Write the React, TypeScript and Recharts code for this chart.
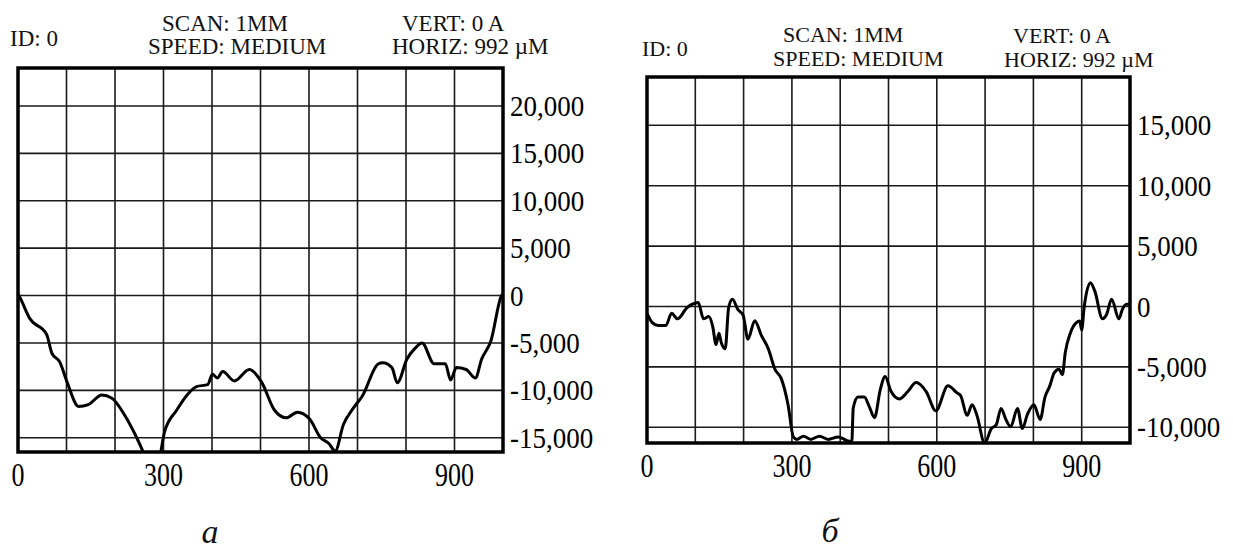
import React from "react";
import { LineChart, Line, XAxis, YAxis, CartesianGrid, ReferenceArea } from "recharts";

// Profile "а": scan position (µm) and surface height (Å)
const posA = [0, 5, 24, 59, 70, 86, 101, 125, 145, 173, 193, 221, 240, 259, 278, 294, 302, 327, 350, 368, 391, 401, 411, 422, 446, 477, 502, 529, 553, 576, 601, 624, 641, 654, 671, 691, 710, 743, 752, 771, 782, 802, 818, 833, 858, 881, 892, 904, 924, 943, 956, 975, 997, 1000];
const heightA = [200, -300, -2400, -4100, -6100, -7000, -9100, -11700, -11500, -10500, -10800, -12700, -14500, -16600, -19000, -16600, -14400, -12100, -10400, -9600, -9400, -8300, -8700, -8000, -9000, -7800, -9100, -12100, -12900, -12300, -13000, -15000, -15600, -16400, -13600, -11900, -10600, -7200, -7100, -7600, -9200, -6700, -5600, -5000, -7200, -7200, -8900, -7600, -7800, -8700, -6700, -4800, 0, 200];

// Profile "б"
const posB = [0, 11, 23, 39, 51, 63, 83, 94, 106, 117, 128, 136, 143, 149, 154, 162, 169, 177, 188, 199, 209, 223, 237, 251, 265, 278, 292, 303, 310, 324, 339, 357, 375, 396, 414, 424, 427, 437, 450, 460, 471, 483, 493, 505, 522, 540, 557, 578, 598, 623, 643, 649, 663, 673, 683, 699, 713, 723, 733, 743, 753, 767, 777, 788, 801, 814, 824, 834, 843, 853, 860, 866, 876, 889, 896, 900, 905, 918, 927, 943, 951, 962, 977, 984, 993, 1000];
const heightB = [-560, -1330, -1570, -1570, -560, -1020, -90, 190, 330, -1020, -830, -1640, -3150, -2220, -3020, -3490, -90, 600, -250, -710, -2710, -1170, -2410, -3490, -5200, -5970, -8130, -10800, -11000, -10740, -11000, -10740, -11000, -10800, -11100, -11200, -8400, -7500, -7500, -8270, -9200, -6880, -5800, -7000, -7650, -7040, -6300, -7040, -8630, -6570, -7190, -7350, -9000, -8130, -9000, -11300, -10100, -9800, -8440, -9350, -9960, -8440, -10100, -8890, -8130, -9350, -7500, -6570, -5490, -5190, -5650, -3800, -2250, -1330, -1200, -1940, -90, 1970, 1290, -1020, -710, 600, -1020, -250, 190, 190];

const xGridTicks = [0, 100, 200, 300, 400, 500, 600, 700, 800, 900, 1000];
const xLabels = [0, 300, 600, 900];
const yTicksA = [-15000, -10000, -5000, 0, 5000, 10000, 15000, 20000];
const yTicksB = [-10000, -5000, 0, 5000, 10000, 15000];
const yDomainA: [number, number] = [-16500, 24000];
const yDomainB: [number, number] = [-11300, 19000];

const FONT = "'Liberation Serif', 'Times New Roman', serif";

const toRows = (xs: number[], ys: number[]) => xs.map((x, i) => ({ x, y: ys[i] }));
const dataA = toRows(posA, heightA);
const dataB = toRows(posB, heightB);

const fmt = (v: number) => v.toLocaleString("en-US");

const XTick = (props: any) => {
  const { x, y, payload } = props;
  if (!xLabels.includes(payload.value)) return <g />;
  return (
    <g transform={`translate(${x},${y + 34}) scale(1,1.3)`}>
      <text x={0} y={0} textAnchor="middle" fontFamily={FONT} fontSize={26} fill="#000">
        {payload.value}
      </text>
    </g>
  );
};

const YTick = (props: any) => {
  const { x, y, payload } = props;
  return (
    <g transform={`translate(${x + 7},${y + 10}) scale(1,1.1)`}>
      <text x={0} y={0} textAnchor="start" fontFamily={FONT} fontSize={27} fill="#000">
        {fmt(payload.value)}
      </text>
    </g>
  );
};

type PanelProps = {
  data: { x: number; y: number }[];
  yTicks: number[];
  yDomain: [number, number];
  width: number;
  height: number;
  margin: { top: number; right: number; bottom: number; left: number };
};

const Panel = ({ data, yTicks, yDomain, width, height, margin }: PanelProps) => (
  <LineChart width={width} height={height} data={data} margin={margin}>
    <CartesianGrid stroke="#1a1a1a" strokeWidth={1.6} />
    <XAxis
      dataKey="x"
      type="number"
      domain={[0, 1000]}
      ticks={xGridTicks}
      interval={0}
      height={30}
      axisLine={false}
      tickLine={false}
      tickSize={0}
      tickMargin={0}
      tick={<XTick />}
    />
    <YAxis
      orientation="right"
      type="number"
      domain={yDomain}
      ticks={yTicks}
      interval={0}
      allowDataOverflow
      width={100}
      axisLine={false}
      tickLine={false}
      tickSize={0}
      tickMargin={0}
      tick={<YTick />}
    />
    <Line
      dataKey="y"
      type="monotone"
      stroke="#000"
      strokeWidth={3}
      strokeLinejoin="round"
      dot={false}
      isAnimationActive={false}
    />
    <ReferenceArea
      x1={0}
      x2={1000}
      y1={yDomain[0]}
      y2={yDomain[1]}
      fill="none"
      stroke="#000"
      strokeWidth={3.5}
      fillOpacity={0}
    />
  </LineChart>
);

const textStyle = { fontFamily: FONT, fill: "#111" };

export default function App() {
  return (
    <div style={{ position: "absolute", left: 0, top: 0, width: 1233, height: 552, background: "#fff", overflow: "hidden" }}>
      <div style={{ position: "absolute", left: 0, top: 0 }}>
        <Panel
          data={dataA}
          yTicks={yTicksA}
          yDomain={yDomainA}
          width={620}
          height={500}
          margin={{ top: 68, right: 17, bottom: 18, left: 18 }}
        />
      </div>
      <div style={{ position: "absolute", left: 620, top: 0 }}>
        <Panel
          data={dataB}
          yTicks={yTicksB}
          yDomain={yDomainB}
          width={613}
          height={500}
          margin={{ top: 77, right: 3, bottom: 27, left: 27 }}
        />
      </div>
      <svg width={1233} height={552} style={{ position: "absolute", left: 0, top: 0, pointerEvents: "none" }}>
        <g fontSize={23}>
          <text x={10} y={46} {...textStyle}>ID: 0</text>
          <text x={162} y={31} {...textStyle}>SCAN: 1MM</text>
          <text x={148} y={54} {...textStyle}>SPEED: MEDIUM</text>
          <text x={402} y={31} {...textStyle}>VERT: 0 A</text>
          <text x={392} y={54} {...textStyle}>HORIZ: 992 µM</text>
        </g>
        <g fontSize={22}>
          <text x={642} y={56} {...textStyle}>ID: 0</text>
          <text x={783} y={42} {...textStyle}>SCAN: 1MM</text>
          <text x={773} y={66} {...textStyle}>SPEED: MEDIUM</text>
          <text x={1013} y={43} {...textStyle}>VERT: 0 A</text>
          <text x={1004} y={67} {...textStyle}>HORIZ: 992 µM</text>
        </g>
        <text x={210} y={543} textAnchor="middle" fontSize={34} fontStyle="italic" {...textStyle}>а</text>
        <text x={830} y={542} textAnchor="middle" fontSize={34} fontStyle="italic" {...textStyle}>б</text>
      </svg>
    </div>
  );
}
